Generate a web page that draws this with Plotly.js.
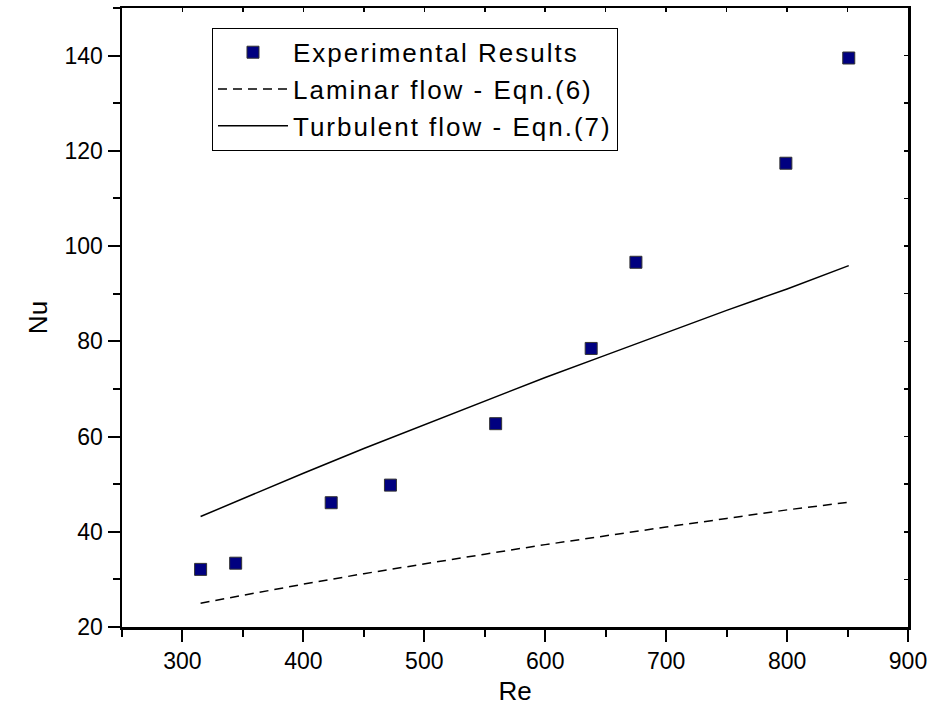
<!DOCTYPE html>
<html>
<head>
<meta charset="utf-8">
<script src="https://cdn.plot.ly/plotly-3.0.1.min.js"></script>
<style>
  html, body { margin: 0; padding: 0; background: #fff; }
  #chart { width: 932px; height: 719px; }
  .legendtext { letter-spacing: 2px; }
</style>
</head>
<body>
<div id="chart"></div>
<script>
const expRe = [315, 344, 423, 472, 559, 638, 675, 799, 851];
const expNu = [32.1, 33.4, 46.1, 49.8, 62.7, 78.5, 96.6, 117.4, 139.5];

// Laminar flow - Eqn.(6)
const lamRe = [315, 350, 400, 450, 500, 550, 600, 650, 700, 750, 800, 851];
const lamNu = [25.0, 26.7, 29.0, 31.2, 33.3, 35.3, 37.3, 39.2, 41.0, 42.8, 44.6, 46.2];

// Turbulent flow - Eqn.(7)
const turRe = [315, 350, 400, 450, 500, 550, 600, 650, 700, 750, 800, 851];
const turNu = [43.2, 47.0, 52.3, 57.5, 62.5, 67.5, 72.4, 77.1, 81.8, 86.5, 91.0, 95.9];

const seriesNames = ['Experimental Results', 'Laminar flow - Eqn.(6)', 'Turbulent flow - Eqn.(7)'];
const xRange = [250, 900];
const yRange = [20, 150];

const FONT = 'Liberation Sans, Arial, Helvetica, sans-serif';

const traces = [
  {
    x: expRe, y: expNu, name: seriesNames[0], type: 'scatter', mode: 'markers',
    marker: { symbol: 'square', size: 12, color: '#000080', line: { color: '#333333', width: 1 } }
  },
  {
    x: lamRe, y: lamNu, name: seriesNames[1], type: 'scatter', mode: 'lines',
    line: { color: '#000000', width: 1.5, dash: '9px,6px' }
  },
  {
    x: turRe, y: turNu, name: seriesNames[2], type: 'scatter', mode: 'lines',
    line: { color: '#000000', width: 1.5 }
  },
  // transparent copy so that the mirrored (top/right) axes get drawn
  {
    x: expRe, y: expNu, xaxis: 'x2', yaxis: 'y2', type: 'scatter', mode: 'markers',
    marker: { opacity: 0 }, showlegend: false, hoverinfo: 'skip'
  }
];

const layout = {
  width: 932, height: 719,
  margin: { l: 122, r: 24, t: 8, b: 92 },
  paper_bgcolor: '#ffffff', plot_bgcolor: '#ffffff',
  font: { family: FONT, color: '#000000' },
  showlegend: true,
  legend: {
    x: 0.1145, y: 0.968, xanchor: 'left', yanchor: 'top',
    bgcolor: '#ffffff', bordercolor: '#000000', borderwidth: 1,
    font: { family: FONT, size: 26, color: '#000000' },
    itemwidth: 70, tracegroupgap: 0
  },
  xaxis: {
    range: xRange, dtick: 100, tick0: 300,
    showgrid: false, zeroline: false,
    showline: true, linecolor: '#000000', linewidth: 2.5,
    ticks: 'outside', ticklen: 12, tickwidth: 2, tickcolor: '#000000',
    tickfont: { family: FONT, size: 23, color: '#000000' },
    minor: { dtick: 50, tick0: 250, ticks: 'outside', ticklen: 7, tickwidth: 2, tickcolor: '#000000', showgrid: false },
    title: { text: 'Re', font: { family: FONT, size: 26, color: '#000000' }, standoff: 9 },
    automargin: false
  },
  yaxis: {
    range: yRange, dtick: 20, tick0: 20,
    showgrid: false, zeroline: false,
    showline: true, linecolor: '#000000', linewidth: 2.5,
    ticks: 'outside', ticklen: 12, tickwidth: 2, tickcolor: '#000000',
    tickfont: { family: FONT, size: 23, color: '#000000' },
    minor: { dtick: 10, tick0: 20, ticks: 'outside', ticklen: 7, tickwidth: 2, tickcolor: '#000000', showgrid: false },
    title: { text: 'Nu', font: { family: FONT, size: 26, color: '#000000' }, standoff: 10 },
    automargin: false
  },
  xaxis2: {
    overlaying: 'x', side: 'top', anchor: 'y2', range: xRange, dtick: 100, tick0: 300,
    showgrid: false, zeroline: false, showline: true, linecolor: '#000000', linewidth: 2.5,
    ticks: 'inside', ticklen: 4, tickwidth: 1.5, tickcolor: '#000000', showticklabels: false,
    minor: { dtick: 50, tick0: 250, ticks: 'inside', ticklen: 4, tickwidth: 1.5, tickcolor: '#000000', showgrid: false },
    automargin: false
  },
  yaxis2: {
    overlaying: 'y', side: 'right', anchor: 'x2', range: yRange, dtick: 20, tick0: 20,
    showgrid: false, zeroline: false, showline: true, linecolor: '#000000', linewidth: 2.5,
    ticks: 'inside', ticklen: 4, tickwidth: 1.5, tickcolor: '#000000', showticklabels: false,
    minor: { dtick: 10, tick0: 20, ticks: 'inside', ticklen: 4, tickwidth: 1.5, tickcolor: '#000000', showgrid: false },
    automargin: false
  }
};

Plotly.newPlot('chart', traces, layout, { displayModeBar: false, staticPlot: true });
</script>
</body>
</html>
